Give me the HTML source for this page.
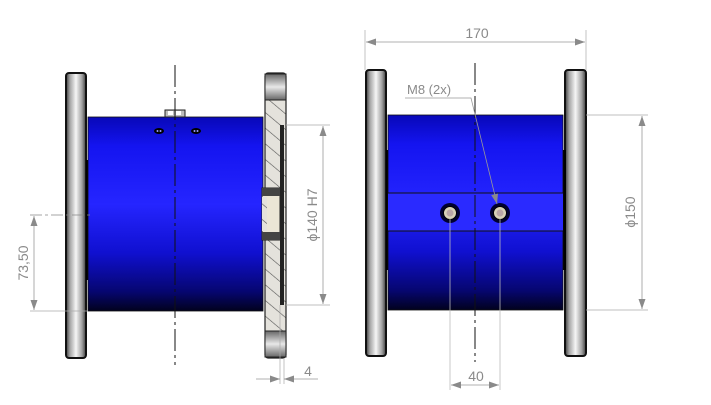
<!DOCTYPE html>
<html><head><meta charset="utf-8"><style>
html,body{margin:0;padding:0;background:#fff;}
svg{display:block;}
text{font-family:"Liberation Sans",sans-serif;fill:#8a8a8a;}
</style></head><body>
<svg width="711" height="405" viewBox="0 0 711 405" xmlns="http://www.w3.org/2000/svg">
<defs>
<linearGradient id="blue" x1="0" y1="0" x2="0" y2="1">
<stop offset="0" stop-color="#0808b8"/>
<stop offset="0.15" stop-color="#1414f0"/>
<stop offset="0.45" stop-color="#2525ff"/>
<stop offset="0.7" stop-color="#1010d0"/>
<stop offset="0.9" stop-color="#060670"/>
<stop offset="1" stop-color="#02021e"/>
</linearGradient>
<linearGradient id="fl" x1="0" y1="0" x2="1" y2="0">
<stop offset="0" stop-color="#3a3a3a"/>
<stop offset="0.2" stop-color="#a5a5a5"/>
<stop offset="0.5" stop-color="#f6f6f6"/>
<stop offset="0.8" stop-color="#a0a0a0"/>
<stop offset="1" stop-color="#3a3a3a"/>
</linearGradient>
<linearGradient id="fl2" x1="0" y1="0" x2="0" y2="1">
<stop offset="0" stop-color="#666"/>
<stop offset="0.5" stop-color="#e8e8e8"/>
<stop offset="1" stop-color="#666"/>
</linearGradient>
<pattern id="hatch" width="12" height="12" patternUnits="userSpaceOnUse" patternTransform="rotate(-50)">
<rect width="12" height="12" fill="#e4e2dc"/>
<line x1="0" y1="0" x2="0" y2="12" stroke="#555" stroke-width="1.2"/>
</pattern>
<marker id="ar" viewBox="0 0 10 10" refX="10" refY="5" markerWidth="10" markerHeight="10" markerUnits="userSpaceOnUse" orient="auto-start-reverse">
<path d="M0,1.5 L10,5 L0,8.5 z" fill="#8a8a8a"/>
</marker>
</defs>

<!-- LEFT VIEW -->
<rect x="66" y="73" width="20" height="285" rx="3" fill="url(#fl)" stroke="#111" stroke-width="2"/>
<rect x="86" y="160" width="4" height="120" fill="#000"/>
<rect x="88" y="117" width="175" height="194" fill="url(#blue)" stroke="#111" stroke-width="0.8"/>
<rect x="165" y="110" width="20" height="7" fill="#bdbdbd" stroke="#222" stroke-width="1"/>
<rect x="168" y="111" width="5" height="4" fill="#fff"/>
<rect x="176" y="111" width="5" height="4" fill="#fff"/>
<ellipse cx="159" cy="131" rx="5" ry="3" fill="#000"/>
<circle cx="157.5" cy="131" r="1" fill="#99f"/><circle cx="160.5" cy="131" r="1" fill="#99f"/>
<ellipse cx="196" cy="131" rx="5" ry="3" fill="#000"/>
<circle cx="194.5" cy="131" r="1" fill="#99f"/><circle cx="197.5" cy="131" r="1" fill="#99f"/>
<line x1="175" y1="65" x2="175" y2="365" stroke="#111" stroke-width="1" stroke-dasharray="22,4,3,4"/>
<rect x="265" y="73" width="21" height="285" rx="3" fill="url(#hatch)" stroke="#222" stroke-width="1.2"/>
<rect x="265" y="74" width="21" height="26" fill="url(#fl2)" stroke="#222" stroke-width="1"/>
<rect x="265" y="331" width="21" height="26" fill="url(#fl2)" stroke="#222" stroke-width="1"/>
<rect x="280" y="125" width="4" height="180" fill="#222"/>
<rect x="262" y="188" width="18" height="52" fill="#ebe6d6" stroke="#222" stroke-width="1"/>
<rect x="262" y="188" width="18" height="8" fill="#444"/>
<rect x="262" y="232" width="18" height="8" fill="#444"/>
<rect x="262" y="197" width="5" height="34" fill="url(#hatch)"/>
<line x1="30" y1="215" x2="92" y2="215" stroke="#888" stroke-width="0.8" stroke-dasharray="12,3,3,3"/>
<line x1="30" y1="311" x2="88" y2="311" stroke="#aaa" stroke-width="0.8"/>
<line x1="34" y1="216" x2="34" y2="310" stroke="#999" stroke-width="0.8" marker-start="url(#ar)" marker-end="url(#ar)"/>
<text x="28" y="263" font-size="14" text-anchor="middle" transform="rotate(-90 28 263)">73,50</text>
<line x1="286" y1="125" x2="330" y2="125" stroke="#aaa" stroke-width="0.8"/>
<line x1="286" y1="305" x2="330" y2="305" stroke="#aaa" stroke-width="0.8"/>
<line x1="323" y1="126" x2="323" y2="304" stroke="#999" stroke-width="0.8" marker-start="url(#ar)" marker-end="url(#ar)"/>
<text x="317" y="215" font-size="14" text-anchor="middle" transform="rotate(-90 317 215)">ϕ140 H7</text>
<line x1="280" y1="305" x2="280" y2="384" stroke="#aaa" stroke-width="0.7"/>
<line x1="284" y1="358" x2="284" y2="384" stroke="#aaa" stroke-width="0.7"/>
<line x1="256" y1="379" x2="280" y2="379" stroke="#999" stroke-width="0.8" marker-end="url(#ar)"/>
<line x1="318" y1="379" x2="284" y2="379" stroke="#999" stroke-width="0.8" marker-end="url(#ar)"/>
<text x="308" y="376" font-size="14" text-anchor="middle">4</text>

<!-- RIGHT VIEW -->
<rect x="366" y="70" width="20" height="286" rx="3" fill="url(#fl)" stroke="#111" stroke-width="2"/>
<rect x="565" y="70" width="21" height="286" rx="3" fill="url(#fl)" stroke="#111" stroke-width="2"/>
<rect x="386" y="150" width="4" height="120" fill="#000"/>
<rect x="562" y="150" width="4" height="120" fill="#000"/>
<rect x="388" y="115" width="175" height="195" fill="url(#blue)" stroke="#111" stroke-width="0.8"/>
<rect x="388" y="193" width="175" height="38" fill="#2a2aff"/>
<line x1="388" y1="193" x2="563" y2="193" stroke="#111" stroke-width="1"/>
<line x1="388" y1="231" x2="563" y2="231" stroke="#111" stroke-width="1"/>
<line x1="475" y1="63" x2="475" y2="362" stroke="#111" stroke-width="1" stroke-dasharray="22,4,3,4"/>
<circle cx="450" cy="213" r="10" fill="#000030"/>
<circle cx="450" cy="213" r="6.5" fill="#d8d2b8" stroke="#000" stroke-width="1"/>
<circle cx="450" cy="213" r="3.5" fill="#b9a6a6"/>
<circle cx="500" cy="213" r="10" fill="#000030"/>
<circle cx="500" cy="213" r="6.5" fill="#d8d2b8" stroke="#000" stroke-width="1"/>
<circle cx="500" cy="213" r="3.5" fill="#b9a6a6"/>
<line x1="365" y1="30" x2="365" y2="70" stroke="#aaa" stroke-width="0.7"/>
<line x1="586" y1="30" x2="586" y2="70" stroke="#aaa" stroke-width="0.7"/>
<line x1="366" y1="42" x2="585" y2="42" stroke="#999" stroke-width="0.8" marker-start="url(#ar)" marker-end="url(#ar)"/>
<text x="477" y="38" font-size="14" text-anchor="middle">170</text>
<text x="407" y="94" font-size="13">M8 (2x)</text>
<polyline points="405,98 471,98 497,204" fill="none" stroke="#999" stroke-width="0.8" marker-end="url(#ar)"/>
<line x1="586" y1="115" x2="648" y2="115" stroke="#aaa" stroke-width="0.7"/>
<line x1="586" y1="310" x2="648" y2="310" stroke="#aaa" stroke-width="0.7"/>
<line x1="642" y1="116" x2="642" y2="309" stroke="#999" stroke-width="0.8" marker-start="url(#ar)" marker-end="url(#ar)"/>
<text x="635" y="212" font-size="14" text-anchor="middle" transform="rotate(-90 635 212)">ϕ150</text>
<line x1="450" y1="218" x2="450" y2="390" stroke="#bbb" stroke-width="0.8"/>
<line x1="500" y1="218" x2="500" y2="390" stroke="#bbb" stroke-width="0.8"/>
<line x1="451" y1="385" x2="499" y2="385" stroke="#999" stroke-width="0.8" marker-start="url(#ar)" marker-end="url(#ar)"/>
<text x="476" y="381" font-size="14" text-anchor="middle">40</text>
</svg>
</body></html>
